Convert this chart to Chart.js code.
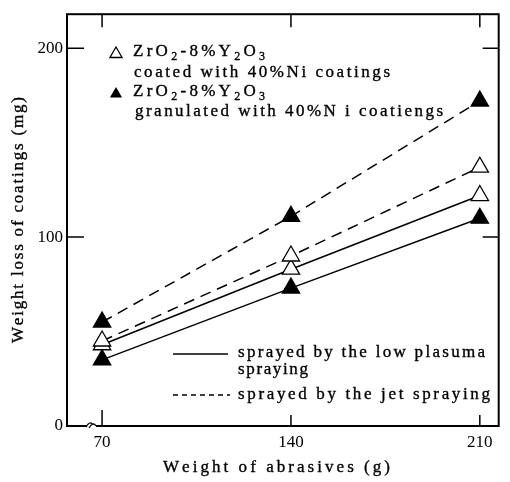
<!DOCTYPE html>
<html>
<head>
<meta charset="utf-8">
<script src="https://cdn.jsdelivr.net/npm/chart.js@4.4.1/dist/chart.umd.min.js"></script>
<style>
html,body{margin:0;padding:0;background:#fff;}
#wrap{width:510px;height:482px;}
</style>
</head>
<body>
<div id="wrap"><canvas id="c" width="510" height="482"></canvas></div>
<script>
// ---- data ----
const xValues = [70, 140, 210];
const jetGranulated = [55, 111, 172];
const jetCoated = [45, 90, 137];
const plasmaCoated = [43, 83, 122];
const plasmaGranulated = [35, 73, 110];
const xTicks = [70, 140, 210];
const yTicks = [0, 100, 200];

const FONT = '"Liberation Serif", "Times New Roman", serif';
const FS = 17;

function pts(arr){ return xValues.map((x,i)=>({x:x, y:arr[i]})); }

// draw text char by char, spread to a target width
function fitText(ctx, segs, x, y, width, size){
  const items = [];
  segs.forEach(s=>{
    for (const ch of s.t){ items.push({ch, sub:!!s.sub}); }
  });
  let total = 0;
  const subSize = Math.round(size*0.7);
  items.forEach(it=>{
    ctx.font = (it.sub ? subSize : size) + 'px ' + FONT;
    it.w = ctx.measureText(it.ch).width;
    total += it.w;
  });
  const extra = items.length>1 ? (width - total)/(items.length-1) : 0;
  let cx = x;
  ctx.fillStyle = '#000';
  ctx.strokeStyle = '#000';
  ctx.lineWidth = 0.35;
  ctx.setLineDash([]);
  ctx.textBaseline = 'middle';
  ctx.textAlign = 'left';
  items.forEach(it=>{
    ctx.font = (it.sub ? subSize : size) + 'px ' + FONT;
    const yy = y + (it.sub ? size*0.28 : 0);
    ctx.fillText(it.ch, cx, yy);
    ctx.strokeText(it.ch, cx, yy);
    cx += it.w + extra;
  });
}

function tri(ctx, x, y, r, filled){
  ctx.beginPath();
  ctx.moveTo(x, y - r);
  ctx.lineTo(x + r*0.866, y + r*0.5);
  ctx.lineTo(x - r*0.866, y + r*0.5);
  ctx.closePath();
  if (filled){ ctx.fillStyle='#000'; ctx.fill(); }
  else { ctx.fillStyle='#fff'; ctx.fill(); ctx.lineWidth=1.3; ctx.strokeStyle='#000'; ctx.stroke(); }
  ctx.fillStyle='#000';
}

const decor = {
  id:'decor',
  afterDraw(chart){
    const ctx = chart.ctx;
    const a = chart.chartArea;
    const xs = chart.scales.x, ys = chart.scales.y;
    ctx.save();
    ctx.strokeStyle = '#000';
    ctx.fillStyle = '#000';
    // frame
    ctx.lineWidth = 2;
    ctx.setLineDash([]);
    ctx.strokeRect(a.left, a.top, a.right - a.left, a.bottom - a.top);
    // x ticks (inward)
    ctx.lineWidth = 1.5;
    xTicks.forEach((v,i)=>{
      const px = xs.getPixelForValue(v);
      ctx.beginPath();
      ctx.moveTo(px, a.bottom); ctx.lineTo(px, a.bottom - (i===0 ? 16 : 11));
      ctx.moveTo(px, a.top); ctx.lineTo(px, a.top + 13);
      ctx.stroke();
    });
    yTicks.forEach(v=>{
      if (v===0) return;
      const py = ys.getPixelForValue(v);
      ctx.beginPath();
      ctx.moveTo(a.left, py); ctx.lineTo(a.left + 17, py);
      ctx.moveTo(a.right, py); ctx.lineTo(a.right - 16, py);
      ctx.stroke();
    });
    // axis break mark
    const bx = a.left + 24, by = a.bottom;
    ctx.fillStyle='#fff';
    ctx.fillRect(bx-4, by-2, 9, 4);
    ctx.fillStyle='#000';
    ctx.lineWidth = 1.2;
    ctx.beginPath();
    ctx.moveTo(bx-5, by+1); ctx.quadraticCurveTo(bx-1, by-6, bx+2, by-1);
    ctx.moveTo(bx-2, by+2); ctx.quadraticCurveTo(bx+2, by-5, bx+5, by);
    ctx.stroke();

    // axis titles
    fitText(ctx, [{t:'Weight of abrasives (g)'}], 163, 468, 227, FS);
    ctx.save();
    ctx.translate(19, 343);
    ctx.rotate(-Math.PI/2);
    fitText(ctx, [{t:'Weight loss of coatings (mg)'}], 0, 0, 246, FS);
    ctx.restore();

    // top legend
    tri(ctx, 116, 54, 7, false);
    fitText(ctx, [{t:'ZrO'},{t:'2',sub:true},{t:'-8%Y'},{t:'2',sub:true},{t:'O'},{t:'3',sub:true}], 133, 52, 132, FS);
    fitText(ctx, [{t:'coated with 40%Ni coatings'}], 134, 73, 256, FS);
    tri(ctx, 116, 94, 7, true);
    fitText(ctx, [{t:'ZrO'},{t:'2',sub:true},{t:'-8%Y'},{t:'2',sub:true},{t:'O'},{t:'3',sub:true}], 133, 92, 132, FS);
    fitText(ctx, [{t:'granulated with 40%N i coatiengs'}], 135, 112, 308, FS);

    // bottom legend
    ctx.lineWidth = 1.4;
    ctx.strokeStyle = '#000';
    ctx.beginPath(); ctx.moveTo(173, 354); ctx.lineTo(228, 354); ctx.stroke();
    ctx.setLineDash([5,4]);
    ctx.beginPath(); ctx.moveTo(173, 395); ctx.lineTo(230, 395); ctx.stroke();
    ctx.setLineDash([]);
    fitText(ctx, [{t:'sprayed by the low plasuma'}], 238, 353, 247, FS);
    fitText(ctx, [{t:'spraying'}], 238, 370, 70, FS);
    fitText(ctx, [{t:'sprayed by the jet spraying'}], 238, 395, 252, FS);
    ctx.restore();
  }
};

function ds(arr, dashed, filled){
  return {
    data: pts(arr),
    showLine: true,
    borderColor: '#000',
    borderWidth: 1.5,
    borderDash: dashed ? [11,7] : [],
    pointStyle: 'triangle',
    pointRadius: 10,
    pointHoverRadius: 10,
    pointBackgroundColor: filled ? '#000' : '#fff',
    pointBorderColor: '#000',
    pointBorderWidth: 1.3,
    fill: false,
    tension: 0,
    clip: false
  };
}

new Chart(document.getElementById('c'), {
  type: 'scatter',
  data: {
    datasets: [
      ds(jetGranulated, true, true),
      ds(jetCoated, true, false),
      ds(plasmaGranulated, false, true),
      ds(plasmaCoated, false, false)
    ]
  },
  options: {
    responsive: false,
    animation: false,
    devicePixelRatio: 1,
    layout: { padding: { top: 12, right: 3, left: 0, bottom: 0 } },
    plugins: { legend: { display: false }, tooltip: { enabled: false } },
    scales: {
      x: {
        type: 'linear', min: 57, max: 217,
        grid: { display: false, drawTicks: false },
        border: { display: false },
        afterBuildTicks: s => { s.ticks = xTicks.map(v => ({ value: v })); },
        afterFit: s => { s.height = 56; },
        ticks: { padding: 6, color: '#000', font: { family: FONT, size: FS }, maxRotation: 0, autoSkip: false }
      },
      y: {
        type: 'linear', min: 0, max: 218,
        grid: { display: false, drawTicks: false },
        border: { display: false },
        afterBuildTicks: s => { s.ticks = yTicks.map(v => ({ value: v })); },
        afterFit: s => { s.width = 67; },
        ticks: { padding: 4, color: '#000', font: { family: FONT, size: FS } }
      }
    }
  },
  plugins: [decor]
});
</script>
</body>
</html>
